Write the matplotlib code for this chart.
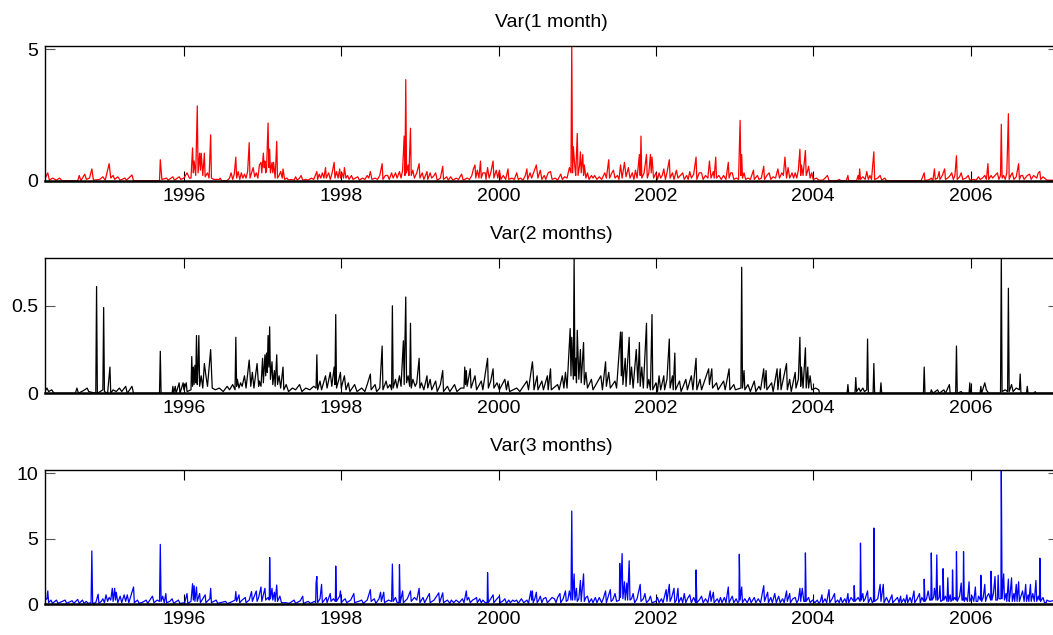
import matplotlib.pyplot as plt
import numpy as np

plt.rcParams['font.family'] = ['Liberation Sans', 'DejaVu Sans']

titles = ['Var(1 month)', 'Var(2 months)', 'Var(3 months)']
colors = ['red', 'black', 'blue']
x_ticks = [1996, 1998, 2000, 2002, 2004, 2006]
x_ticklabels = ['1996', '1998', '2000', '2002', '2004', '2006']
y_ticks = [[0, 5], [0, 0.5], [0, 5, 10]]
y_ticklabels = [['0', '5'], ['0', '0.5'], ['0', '5', '10']]
y_limits = [5.13, 0.771, 10.23]

# (year, value) points
var1 = [
    (1994.23, 0.05), (1994.27, 0.3), (1994.29, 0.02), (1994.33, 0.1), (1994.38, 0.02), (1994.42, 0.1),
    (1994.45, 0.0), (1994.65, 0.0), (1994.67, 0.2), (1994.69, 0.0), (1994.74, 0.25), (1994.76, 0.05),
    (1994.80, 0.1), (1994.83, 0.45), (1994.85, 0.02), (1994.93, 0.05), (1994.97, 0.15), (1995.00, 0.02),
    (1995.05, 0.65), (1995.07, 0.1), (1995.10, 0.2), (1995.12, 0.05), (1995.16, 0.15), (1995.19, 0.02),
    (1995.25, 0.1), (1995.27, 0.02), (1995.34, 0.22), (1995.36, 0.0), (1995.69, 0.0), (1995.70, 0.8),
    (1995.72, 0.05), (1995.78, 0.1), (1995.80, 0.02), (1995.86, 0.15), (1995.88, 0.02), (1995.94, 0.15),
    (1995.96, 0.05), (1996.00, 0.1), (1996.04, 0.3), (1996.07, 0.1), (1996.09, 0.1), (1996.11, 1.25),
    (1996.12, 0.3), (1996.13, 0.75), (1996.15, 0.2), (1996.17, 2.85), (1996.18, 0.3), (1996.20, 1.05),
    (1996.21, 0.4), (1996.22, 1.05), (1996.24, 0.2), (1996.26, 1.05), (1996.27, 0.15), (1996.30, 0.3),
    (1996.32, 0.1), (1996.34, 1.75), (1996.35, 0.1), (1996.38, 0.05), (1996.45, 0.05), (1996.46, 0.1),
    (1996.48, 0.0), (1996.55, 0.0), (1996.58, 0.1), (1996.60, 0.3), (1996.62, 0.05), (1996.64, 0.25),
    (1996.66, 0.9), (1996.67, 0.1), (1996.69, 0.35), (1996.71, 0.05), (1996.73, 0.3), (1996.75, 0.1),
    (1996.77, 0.25), (1996.79, 0.1), (1996.81, 0.35), (1996.83, 1.45), (1996.84, 0.1), (1996.86, 0.3),
    (1996.88, 0.5), (1996.90, 0.15), (1996.92, 0.3), (1996.94, 0.1), (1996.96, 0.6), (1996.98, 0.7),
    (1996.99, 0.3), (1997.01, 1.05), (1997.02, 0.5), (1997.03, 0.75), (1997.04, 0.3), (1997.05, 0.4),
    (1997.07, 2.2), (1997.08, 0.5), (1997.09, 1.2), (1997.10, 0.3), (1997.12, 0.7), (1997.13, 0.3),
    (1997.14, 0.7), (1997.16, 0.1), (1997.18, 1.5), (1997.19, 0.1), (1997.21, 0.2), (1997.23, 0.35),
    (1997.25, 0.1), (1997.26, 0.45), (1997.28, 0.05), (1997.31, 0.1), (1997.33, 0.02), (1997.36, 0.05),
    (1997.40, 0.02), (1997.42, 0.15), (1997.44, 0.02), (1997.47, 0.1), (1997.49, 0.2), (1997.51, 0.02),
    (1997.55, 0.05), (1997.58, 0.02), (1997.62, 0.1), (1997.65, 0.05), (1997.67, 0.2), (1997.69, 0.35),
    (1997.70, 0.05), (1997.72, 0.25), (1997.74, 0.1), (1997.76, 0.3), (1997.78, 0.1), (1997.80, 0.5),
    (1997.81, 0.1), (1997.84, 0.3), (1997.86, 0.05), (1997.88, 0.25), (1997.91, 0.7), (1997.92, 0.1),
    (1997.94, 0.35), (1997.96, 0.1), (1997.98, 0.45), (1997.99, 0.1), (1998.01, 0.3), (1998.03, 0.1),
    (1998.04, 0.5), (1998.06, 0.1), (1998.08, 0.2), (1998.10, 0.05), (1998.13, 0.2), (1998.15, 0.05),
    (1998.18, 0.1), (1998.21, 0.15), (1998.23, 0.02), (1998.27, 0.1), (1998.30, 0.05), (1998.33, 0.2),
    (1998.35, 0.1), (1998.37, 0.35), (1998.39, 0.05), (1998.43, 0.1), (1998.46, 0.05), (1998.49, 0.2),
    (1998.52, 0.65), (1998.53, 0.05), (1998.56, 0.2), (1998.59, 0.2), (1998.61, 0.05), (1998.64, 0.3),
    (1998.66, 0.1), (1998.69, 0.3), (1998.71, 0.1), (1998.74, 0.35), (1998.76, 0.1), (1998.78, 0.4),
    (1998.80, 1.7), (1998.81, 0.2), (1998.82, 3.85), (1998.83, 0.3), (1998.85, 0.6), (1998.86, 0.2),
    (1998.88, 2.0), (1998.89, 0.2), (1998.91, 0.4), (1998.93, 0.1), (1998.96, 0.3), (1998.99, 0.65),
    (1999.00, 0.1), (1999.03, 0.3), (1999.05, 0.05), (1999.09, 0.35), (1999.10, 0.05), (1999.13, 0.3),
    (1999.15, 0.1), (1999.18, 0.2), (1999.20, 0.3), (1999.22, 0.02), (1999.26, 0.1), (1999.29, 0.55),
    (1999.30, 0.05), (1999.34, 0.15), (1999.36, 0.02), (1999.39, 0.15), (1999.42, 0.02), (1999.46, 0.1),
    (1999.49, 0.05), (1999.53, 0.25), (1999.55, 0.02), (1999.60, 0.1), (1999.63, 0.05), (1999.66, 0.2),
    (1999.68, 0.45), (1999.70, 0.6), (1999.71, 0.1), (1999.73, 0.4), (1999.75, 0.1), (1999.77, 0.75),
    (1999.78, 0.1), (1999.80, 0.3), (1999.83, 0.3), (1999.84, 0.05), (1999.86, 0.5), (1999.88, 0.1),
    (1999.90, 0.3), (1999.93, 0.75), (1999.94, 0.1), (1999.97, 0.4), (1999.99, 0.1), (2000.01, 0.4),
    (2000.03, 0.05), (2000.06, 0.2), (2000.09, 0.05), (2000.12, 0.45), (2000.13, 0.05), (2000.17, 0.1),
    (2000.20, 0.05), (2000.23, 0.3), (2000.25, 0.05), (2000.28, 0.1), (2000.31, 0.02), (2000.34, 0.2),
    (2000.36, 0.45), (2000.37, 0.05), (2000.40, 0.3), (2000.42, 0.1), (2000.45, 0.35), (2000.48, 0.6),
    (2000.50, 0.1), (2000.53, 0.4), (2000.55, 0.05), (2000.58, 0.2), (2000.60, 0.05), (2000.63, 0.3),
    (2000.66, 0.35), (2000.68, 0.05), (2000.72, 0.1), (2000.75, 0.02), (2000.79, 0.25), (2000.81, 0.05),
    (2000.84, 0.15), (2000.87, 0.1), (2000.90, 0.5), (2000.92, 0.3), (2000.93, 5.2), (2000.94, 0.3),
    (2000.95, 1.3), (2000.97, 0.5), (2000.98, 0.2), (2001.00, 1.8), (2001.01, 0.2), (2001.03, 0.6),
    (2001.04, 1.1), (2001.05, 0.3), (2001.07, 1.0), (2001.08, 0.2), (2001.09, 0.6), (2001.11, 0.1),
    (2001.13, 0.3), (2001.15, 0.05), (2001.18, 0.2), (2001.20, 0.1), (2001.22, 0.2), (2001.25, 0.05),
    (2001.28, 0.15), (2001.31, 0.05), (2001.35, 0.3), (2001.37, 0.1), (2001.40, 0.8), (2001.41, 0.1),
    (2001.44, 0.3), (2001.46, 0.4), (2001.48, 0.1), (2001.51, 0.2), (2001.53, 0.05), (2001.55, 0.6),
    (2001.57, 0.1), (2001.60, 0.7), (2001.62, 0.15), (2001.65, 0.5), (2001.67, 0.1), (2001.70, 0.3),
    (2001.72, 0.05), (2001.74, 0.4), (2001.76, 0.1), (2001.79, 1.0), (2001.80, 0.2), (2001.81, 1.7),
    (2001.82, 0.1), (2001.85, 0.3), (2001.88, 1.0), (2001.89, 0.1), (2001.91, 0.3), (2001.93, 1.0),
    (2001.94, 0.3), (2001.95, 0.9), (2001.97, 0.1), (2002.00, 0.3), (2002.02, 0.05), (2002.04, 0.3),
    (2002.06, 0.1), (2002.08, 0.2), (2002.10, 0.45), (2002.12, 0.05), (2002.14, 0.3), (2002.17, 0.8),
    (2002.18, 0.1), (2002.21, 0.3), (2002.23, 0.05), (2002.26, 0.4), (2002.28, 0.1), (2002.31, 0.2),
    (2002.34, 0.3), (2002.36, 0.05), (2002.39, 0.2), (2002.41, 0.05), (2002.43, 0.35), (2002.45, 0.1),
    (2002.48, 0.25), (2002.51, 0.9), (2002.52, 0.05), (2002.55, 0.3), (2002.58, 0.3), (2002.60, 0.05),
    (2002.63, 0.2), (2002.66, 0.1), (2002.68, 0.75), (2002.70, 0.1), (2002.73, 0.35), (2002.74, 0.1),
    (2002.76, 0.9), (2002.77, 0.1), (2002.80, 0.2), (2002.83, 0.05), (2002.86, 0.2), (2002.89, 0.05),
    (2002.92, 0.7), (2002.93, 0.1), (2002.95, 0.3), (2002.97, 0.3), (2002.99, 0.05), (2003.02, 0.1),
    (2003.05, 0.05), (2003.07, 2.3), (2003.08, 0.2), (2003.09, 1.0), (2003.10, 0.1), (2003.12, 0.3),
    (2003.14, 0.05), (2003.17, 0.1), (2003.20, 0.05), (2003.24, 0.4), (2003.25, 0.05), (2003.29, 0.2),
    (2003.31, 0.05), (2003.34, 0.1), (2003.37, 0.55), (2003.38, 0.05), (2003.41, 0.2), (2003.44, 0.3),
    (2003.46, 0.05), (2003.49, 0.15), (2003.52, 0.1), (2003.55, 0.45), (2003.57, 0.1), (2003.60, 0.3),
    (2003.62, 0.2), (2003.64, 0.9), (2003.66, 0.1), (2003.68, 0.5), (2003.70, 0.1), (2003.73, 0.3),
    (2003.75, 0.1), (2003.77, 0.3), (2003.79, 0.1), (2003.81, 0.4), (2003.83, 1.2), (2003.84, 0.2),
    (2003.85, 0.6), (2003.87, 0.2), (2003.90, 1.15), (2003.91, 0.2), (2003.93, 0.4), (2003.94, 0.55),
    (2003.96, 0.1), (2003.98, 0.3), (2004.00, 0.05), (2004.04, 0.1), (2004.07, 0.02), (2004.12, 0.02),
    (2004.15, 0.1), (2004.18, 0.2), (2004.20, 0.0), (2004.30, 0.0), (2004.33, 0.05), (2004.35, 0.0),
    (2004.42, 0.0), (2004.44, 0.2), (2004.45, 0.0), (2004.55, 0.0), (2004.57, 0.2), (2004.58, 0.05),
    (2004.59, 0.45), (2004.60, 0.05), (2004.63, 0.15), (2004.66, 0.05), (2004.68, 0.35), (2004.70, 0.05),
    (2004.72, 0.2), (2004.74, 0.05), (2004.77, 1.1), (2004.78, 0.05), (2004.82, 0.1), (2004.85, 0.2),
    (2004.87, 0.02), (2004.91, 0.1), (2004.93, 0.0), (2005.37, 0.0), (2005.41, 0.3), (2005.42, 0.0),
    (2005.48, 0.05), (2005.50, 0.1), (2005.52, 0.0), (2005.54, 0.45), (2005.55, 0.05), (2005.58, 0.1),
    (2005.60, 0.35), (2005.61, 0.05), (2005.64, 0.2), (2005.67, 0.45), (2005.68, 0.05), (2005.71, 0.1),
    (2005.74, 0.2), (2005.76, 0.3), (2005.78, 0.05), (2005.80, 0.2), (2005.82, 0.95), (2005.83, 0.05),
    (2005.86, 0.15), (2005.88, 0.3), (2005.90, 0.05), (2005.94, 0.1), (2005.97, 0.2), (2005.99, 0.02),
    (2006.04, 0.05), (2006.07, 0.02), (2006.10, 0.15), (2006.12, 0.05), (2006.15, 0.1), (2006.18, 0.2),
    (2006.20, 0.05), (2006.22, 0.65), (2006.23, 0.05), (2006.26, 0.2), (2006.28, 0.1), (2006.31, 0.2),
    (2006.34, 0.3), (2006.36, 0.05), (2006.38, 0.2), (2006.39, 2.15), (2006.40, 0.1), (2006.42, 0.2),
    (2006.44, 0.05), (2006.46, 0.3), (2006.48, 2.55), (2006.49, 0.05), (2006.51, 0.2), (2006.53, 0.3),
    (2006.55, 0.05), (2006.58, 0.15), (2006.61, 0.65), (2006.62, 0.05), (2006.64, 0.2), (2006.66, 0.2),
    (2006.68, 0.05), (2006.72, 0.2), (2006.75, 0.25), (2006.77, 0.05), (2006.80, 0.2), (2006.84, 0.1),
    (2006.86, 0.3), (2006.88, 0.35), (2006.89, 0.05), (2006.92, 0.15), (2006.94, 0.1), (2006.97, 0.02),
    (2007.10, 0.02),
]

var2 = [
    (1994.23, 0.01), (1994.26, 0.03), (1994.28, 0.01), (1994.32, 0.02), (1994.35, 0.0), (1994.62, 0.0),
    (1994.64, 0.03), (1994.66, 0.0), (1994.74, 0.02), (1994.77, 0.03), (1994.79, 0.01), (1994.88, 0.0),
    (1994.89, 0.61), (1994.90, 0.0), (1994.97, 0.02), (1994.98, 0.49), (1994.99, 0.01), (1995.03, 0.0),
    (1995.06, 0.15), (1995.07, 0.0), (1995.10, 0.02), (1995.14, 0.01), (1995.18, 0.03), (1995.21, 0.01),
    (1995.26, 0.04), (1995.28, 0.0), (1995.34, 0.04), (1995.36, 0.0), (1995.69, 0.0), (1995.70, 0.24),
    (1995.71, 0.0), (1995.85, 0.0), (1995.86, 0.04), (1995.87, 0.0), (1995.89, 0.04), (1995.90, 0.0),
    (1995.94, 0.06), (1995.95, 0.0), (1995.99, 0.06), (1996.00, 0.02), (1996.03, 0.06), (1996.04, 0.01),
    (1996.09, 0.02), (1996.10, 0.21), (1996.11, 0.04), (1996.12, 0.15), (1996.13, 0.05), (1996.14, 0.16),
    (1996.15, 0.06), (1996.16, 0.33), (1996.17, 0.05), (1996.18, 0.15), (1996.19, 0.33), (1996.20, 0.04),
    (1996.22, 0.1), (1996.24, 0.03), (1996.26, 0.17), (1996.28, 0.1), (1996.30, 0.04), (1996.34, 0.25),
    (1996.36, 0.03), (1996.40, 0.02), (1996.45, 0.03), (1996.50, 0.01), (1996.55, 0.04), (1996.58, 0.02),
    (1996.62, 0.05), (1996.65, 0.02), (1996.66, 0.32), (1996.67, 0.04), (1996.68, 0.08), (1996.70, 0.03),
    (1996.72, 0.06), (1996.74, 0.04), (1996.77, 0.1), (1996.79, 0.03), (1996.83, 0.19), (1996.85, 0.04),
    (1996.87, 0.12), (1996.89, 0.03), (1996.93, 0.17), (1996.95, 0.04), (1996.96, 0.07), (1996.98, 0.04),
    (1997.00, 0.2), (1997.01, 0.06), (1997.03, 0.22), (1997.04, 0.1), (1997.05, 0.23), (1997.06, 0.12),
    (1997.07, 0.33), (1997.08, 0.15), (1997.09, 0.38), (1997.10, 0.08), (1997.12, 0.18), (1997.13, 0.05),
    (1997.15, 0.13), (1997.16, 0.04), (1997.18, 0.22), (1997.19, 0.05), (1997.21, 0.1), (1997.23, 0.03),
    (1997.26, 0.15), (1997.27, 0.02), (1997.30, 0.05), (1997.33, 0.01), (1997.38, 0.03), (1997.42, 0.02),
    (1997.47, 0.05), (1997.50, 0.01), (1997.55, 0.03), (1997.60, 0.02), (1997.65, 0.04), (1997.68, 0.03),
    (1997.69, 0.22), (1997.70, 0.02), (1997.73, 0.07), (1997.75, 0.02), (1997.80, 0.1), (1997.82, 0.03),
    (1997.86, 0.12), (1997.88, 0.04), (1997.91, 0.15), (1997.92, 0.05), (1997.93, 0.45), (1997.94, 0.03),
    (1997.97, 0.08), (1997.99, 0.12), (1998.00, 0.03), (1998.04, 0.1), (1998.06, 0.02), (1998.09, 0.06),
    (1998.11, 0.01), (1998.17, 0.05), (1998.20, 0.01), (1998.26, 0.03), (1998.30, 0.01), (1998.33, 0.05),
    (1998.37, 0.11), (1998.38, 0.02), (1998.43, 0.05), (1998.45, 0.01), (1998.49, 0.03), (1998.52, 0.27),
    (1998.53, 0.02), (1998.57, 0.07), (1998.59, 0.03), (1998.62, 0.05), (1998.64, 0.02), (1998.65, 0.5),
    (1998.66, 0.03), (1998.69, 0.08), (1998.71, 0.03), (1998.74, 0.1), (1998.76, 0.04), (1998.79, 0.3),
    (1998.80, 0.05), (1998.82, 0.55), (1998.83, 0.06), (1998.85, 0.1), (1998.87, 0.04), (1998.88, 0.4),
    (1998.89, 0.03), (1998.91, 0.08), (1998.94, 0.04), (1998.96, 0.06), (1998.99, 0.2), (1999.00, 0.03),
    (1999.02, 0.06), (1999.05, 0.02), (1999.09, 0.1), (1999.10, 0.03), (1999.13, 0.08), (1999.15, 0.02),
    (1999.20, 0.07), (1999.22, 0.01), (1999.26, 0.05), (1999.29, 0.13), (1999.30, 0.01), (1999.35, 0.04),
    (1999.38, 0.01), (1999.44, 0.05), (1999.47, 0.01), (1999.52, 0.03), (1999.56, 0.03), (1999.57, 0.15),
    (1999.58, 0.05), (1999.59, 0.13), (1999.60, 0.04), (1999.64, 0.14), (1999.65, 0.03), (1999.70, 0.1),
    (1999.72, 0.02), (1999.78, 0.07), (1999.80, 0.02), (1999.86, 0.2), (1999.87, 0.03), (1999.90, 0.07),
    (1999.93, 0.14), (1999.94, 0.03), (1999.98, 0.06), (2000.01, 0.02), (2000.08, 0.08), (2000.10, 0.02),
    (2000.12, 0.07), (2000.14, 0.01), (2000.23, 0.03), (2000.27, 0.01), (2000.36, 0.07), (2000.38, 0.02),
    (2000.43, 0.18), (2000.44, 0.12), (2000.45, 0.02), (2000.49, 0.1), (2000.50, 0.02), (2000.55, 0.07),
    (2000.57, 0.02), (2000.62, 0.1), (2000.63, 0.02), (2000.66, 0.14), (2000.67, 0.02), (2000.75, 0.05),
    (2000.77, 0.02), (2000.81, 0.1), (2000.83, 0.03), (2000.85, 0.12), (2000.87, 0.03), (2000.91, 0.37),
    (2000.92, 0.1), (2000.93, 0.32), (2000.95, 0.08), (2000.96, 0.78), (2000.97, 0.1), (2000.98, 0.2),
    (2000.99, 0.06), (2001.00, 0.36), (2001.02, 0.08), (2001.04, 0.25), (2001.05, 0.06), (2001.08, 0.29),
    (2001.09, 0.05), (2001.11, 0.12), (2001.13, 0.03), (2001.18, 0.08), (2001.20, 0.02), (2001.30, 0.1),
    (2001.32, 0.02), (2001.36, 0.18), (2001.37, 0.04), (2001.40, 0.12), (2001.42, 0.03), (2001.48, 0.07),
    (2001.50, 0.03), (2001.55, 0.35), (2001.56, 0.1), (2001.57, 0.35), (2001.58, 0.05), (2001.61, 0.2),
    (2001.62, 0.04), (2001.66, 0.32), (2001.67, 0.05), (2001.69, 0.15), (2001.71, 0.03), (2001.75, 0.25),
    (2001.77, 0.06), (2001.79, 0.29), (2001.80, 0.04), (2001.82, 0.15), (2001.84, 0.03), (2001.88, 0.4),
    (2001.89, 0.03), (2001.91, 0.08), (2001.93, 0.02), (2001.95, 0.45), (2001.96, 0.02), (2002.00, 0.06),
    (2002.02, 0.01), (2002.04, 0.1), (2002.06, 0.02), (2002.10, 0.1), (2002.11, 0.02), (2002.14, 0.08),
    (2002.17, 0.31), (2002.18, 0.03), (2002.21, 0.1), (2002.22, 0.02), (2002.24, 0.23), (2002.25, 0.02),
    (2002.30, 0.07), (2002.32, 0.01), (2002.38, 0.08), (2002.40, 0.02), (2002.45, 0.1), (2002.47, 0.02),
    (2002.51, 0.2), (2002.52, 0.02), (2002.56, 0.08), (2002.58, 0.02), (2002.67, 0.14), (2002.68, 0.05),
    (2002.71, 0.14), (2002.72, 0.03), (2002.77, 0.06), (2002.79, 0.02), (2002.86, 0.07), (2002.88, 0.02),
    (2002.93, 0.14), (2002.94, 0.02), (2002.99, 0.05), (2003.01, 0.02), (2003.08, 0.03), (2003.09, 0.72),
    (2003.10, 0.03), (2003.12, 0.13), (2003.13, 0.02), (2003.17, 0.05), (2003.20, 0.01), (2003.25, 0.07),
    (2003.27, 0.01), (2003.31, 0.04), (2003.33, 0.02), (2003.37, 0.14), (2003.38, 0.03), (2003.40, 0.13),
    (2003.41, 0.02), (2003.47, 0.06), (2003.49, 0.01), (2003.54, 0.14), (2003.55, 0.02), (2003.58, 0.14),
    (2003.59, 0.02), (2003.66, 0.17), (2003.67, 0.02), (2003.70, 0.08), (2003.72, 0.01), (2003.77, 0.12),
    (2003.78, 0.03), (2003.81, 0.08), (2003.83, 0.32), (2003.84, 0.04), (2003.85, 0.15), (2003.87, 0.03),
    (2003.90, 0.26), (2003.91, 0.03), (2003.93, 0.15), (2003.94, 0.03), (2003.96, 0.1), (2003.98, 0.02),
    (2004.03, 0.03), (2004.07, 0.02), (2004.08, 0.0), (2004.43, 0.0), (2004.44, 0.05), (2004.45, 0.0),
    (2004.53, 0.0), (2004.54, 0.09), (2004.55, 0.01), (2004.58, 0.03), (2004.60, 0.01), (2004.63, 0.03),
    (2004.65, 0.01), (2004.68, 0.02), (2004.69, 0.31), (2004.70, 0.0), (2004.76, 0.0), (2004.77, 0.17),
    (2004.78, 0.0), (2004.85, 0.0), (2004.86, 0.06), (2004.87, 0.0), (2005.40, 0.0), (2005.41, 0.15),
    (2005.42, 0.0), (2005.49, 0.0), (2005.50, 0.02), (2005.52, 0.0), (2005.58, 0.02), (2005.60, 0.0),
    (2005.66, 0.02), (2005.68, 0.0), (2005.73, 0.05), (2005.74, 0.0), (2005.81, 0.0), (2005.82, 0.27),
    (2005.83, 0.0), (2005.88, 0.01), (2005.90, 0.0), (2005.98, 0.0), (2005.99, 0.06), (2006.00, 0.0),
    (2006.12, 0.0), (2006.13, 0.04), (2006.14, 0.0), (2006.18, 0.06), (2006.20, 0.02), (2006.23, 0.0),
    (2006.38, 0.0), (2006.39, 0.78), (2006.40, 0.01), (2006.44, 0.02), (2006.47, 0.01), (2006.48, 0.6),
    (2006.49, 0.01), (2006.52, 0.05), (2006.54, 0.01), (2006.58, 0.03), (2006.62, 0.02), (2006.63, 0.11),
    (2006.64, 0.0), (2006.71, 0.0), (2006.72, 0.04), (2006.73, 0.0), (2006.81, 0.0), (2006.82, 0.01),
    (2006.83, 0.0), (2007.10, 0.0),
]

var3 = [
    (1994.23, 0.3), (1994.26, 0.4), (1994.27, 1.0), (1994.28, 0.1), (1994.31, 0.3), (1994.33, 0.05),
    (1994.38, 0.3), (1994.40, 0.05), (1994.49, 0.3), (1994.51, 0.05), (1994.58, 0.25), (1994.60, 0.05),
    (1994.65, 0.35), (1994.67, 0.05), (1994.71, 0.3), (1994.73, 0.05), (1994.76, 0.2), (1994.78, 0.05),
    (1994.82, 0.1), (1994.83, 4.05), (1994.84, 0.05), (1994.88, 0.1), (1994.91, 0.75), (1994.92, 0.05),
    (1994.95, 0.2), (1994.97, 0.4), (1994.99, 0.1), (1995.01, 0.7), (1995.03, 0.2), (1995.05, 0.5),
    (1995.07, 0.3), (1995.09, 1.2), (1995.10, 0.2), (1995.12, 1.2), (1995.13, 0.3), (1995.14, 0.9),
    (1995.16, 0.1), (1995.19, 0.6), (1995.21, 0.1), (1995.24, 0.7), (1995.26, 0.2), (1995.28, 0.7),
    (1995.30, 0.1), (1995.36, 1.3), (1995.37, 0.1), (1995.41, 0.3), (1995.43, 0.05), (1995.48, 0.15),
    (1995.52, 0.3), (1995.54, 0.05), (1995.60, 0.6), (1995.62, 0.1), (1995.66, 0.3), (1995.69, 0.2),
    (1995.70, 4.55), (1995.71, 0.2), (1995.73, 0.6), (1995.75, 0.1), (1995.77, 0.8), (1995.78, 0.1),
    (1995.82, 0.2), (1995.85, 0.4), (1995.87, 0.05), (1995.93, 0.3), (1995.95, 0.05), (1996.01, 0.1),
    (1996.04, 0.8), (1996.05, 0.05), (1996.09, 0.2), (1996.11, 1.55), (1996.12, 0.3), (1996.13, 1.4),
    (1996.14, 0.2), (1996.16, 1.3), (1996.17, 0.2), (1996.20, 0.8), (1996.21, 0.1), (1996.27, 0.7),
    (1996.28, 0.1), (1996.33, 0.4), (1996.34, 1.2), (1996.35, 0.1), (1996.41, 0.3), (1996.43, 0.05),
    (1996.53, 0.2), (1996.55, 0.02), (1996.62, 0.2), (1996.65, 0.3), (1996.66, 0.95), (1996.67, 0.2),
    (1996.70, 0.7), (1996.71, 0.1), (1996.74, 0.3), (1996.78, 0.5), (1996.79, 0.1), (1996.83, 0.3),
    (1996.86, 0.95), (1996.87, 0.2), (1996.92, 1.0), (1996.93, 0.2), (1996.95, 0.5), (1996.98, 1.3),
    (1996.99, 0.2), (1997.03, 1.2), (1997.04, 0.3), (1997.07, 0.5), (1997.09, 3.55), (1997.10, 0.4),
    (1997.12, 1.2), (1997.13, 0.3), (1997.15, 0.9), (1997.16, 0.2), (1997.18, 1.45), (1997.19, 0.2),
    (1997.22, 0.6), (1997.24, 0.1), (1997.29, 0.1), (1997.34, 0.05), (1997.40, 0.3), (1997.42, 0.05),
    (1997.48, 0.25), (1997.51, 0.6), (1997.52, 0.05), (1997.58, 0.2), (1997.61, 0.05), (1997.66, 0.2),
    (1997.68, 1.6), (1997.69, 2.1), (1997.70, 0.1), (1997.73, 0.4), (1997.75, 1.5), (1997.76, 0.1),
    (1997.81, 0.5), (1997.82, 0.1), (1997.86, 0.8), (1997.87, 0.2), (1997.90, 0.4), (1997.93, 2.9),
    (1997.94, 0.2), (1997.98, 0.6), (1997.99, 1.0), (1998.00, 0.1), (1998.03, 0.3), (1998.05, 0.4),
    (1998.07, 0.1), (1998.12, 0.3), (1998.16, 0.8), (1998.17, 0.1), (1998.22, 0.2), (1998.26, 0.3),
    (1998.28, 0.05), (1998.33, 0.3), (1998.37, 1.1), (1998.38, 0.2), (1998.42, 0.4), (1998.44, 0.05),
    (1998.48, 0.4), (1998.50, 0.9), (1998.51, 0.2), (1998.54, 0.9), (1998.55, 0.1), (1998.60, 0.3),
    (1998.64, 0.2), (1998.65, 3.05), (1998.66, 0.2), (1998.69, 0.5), (1998.71, 0.1), (1998.74, 3.0),
    (1998.75, 0.1), (1998.78, 1.0), (1998.79, 0.1), (1998.84, 0.4), (1998.88, 1.0), (1998.89, 0.2),
    (1998.93, 0.5), (1998.96, 0.3), (1998.99, 1.2), (1999.00, 0.1), (1999.04, 0.5), (1999.06, 0.1),
    (1999.12, 0.8), (1999.13, 0.1), (1999.18, 0.3), (1999.24, 0.85), (1999.25, 0.1), (1999.29, 0.85),
    (1999.30, 0.1), (1999.35, 0.3), (1999.38, 0.05), (1999.46, 0.3), (1999.50, 0.1), (1999.59, 1.0),
    (1999.60, 0.3), (1999.62, 0.5), (1999.64, 0.1), (1999.70, 0.4), (1999.72, 0.5), (1999.73, 0.1),
    (1999.80, 0.3), (1999.83, 0.1), (1999.86, 2.4), (1999.87, 0.1), (1999.93, 0.7), (1999.94, 0.1),
    (1999.98, 0.4), (2000.01, 0.6), (2000.02, 0.1), (2000.08, 0.4), (2000.10, 0.05), (2000.18, 0.3),
    (2000.23, 0.3), (2000.25, 0.05), (2000.36, 0.3), (2000.38, 0.05), (2000.41, 1.0), (2000.42, 0.3),
    (2000.43, 1.0), (2000.44, 0.1), (2000.48, 0.9), (2000.49, 0.1), (2000.53, 0.6), (2000.55, 0.1),
    (2000.60, 0.5), (2000.62, 0.1), (2000.71, 0.4), (2000.73, 0.1), (2000.75, 0.5), (2000.78, 0.8),
    (2000.79, 0.1), (2000.85, 1.0), (2000.86, 0.2), (2000.90, 1.0), (2000.92, 0.3), (2000.93, 7.1),
    (2000.94, 0.3), (2000.96, 2.3), (2000.97, 0.3), (2000.99, 1.2), (2001.00, 0.2), (2001.04, 1.8),
    (2001.05, 0.2), (2001.08, 2.3), (2001.09, 0.2), (2001.13, 0.6), (2001.15, 0.1), (2001.23, 0.5),
    (2001.25, 0.1), (2001.36, 1.0), (2001.37, 0.1), (2001.42, 1.1), (2001.43, 0.2), (2001.48, 0.8),
    (2001.50, 0.2), (2001.54, 3.1), (2001.55, 0.5), (2001.57, 3.85), (2001.58, 0.4), (2001.60, 1.7),
    (2001.61, 0.3), (2001.63, 1.6), (2001.64, 0.3), (2001.66, 3.3), (2001.67, 0.3), (2001.71, 0.8),
    (2001.73, 0.1), (2001.80, 1.5), (2001.81, 0.2), (2001.86, 0.8), (2001.88, 0.1), (2001.93, 0.6),
    (2001.95, 0.1), (2002.02, 0.5), (2002.04, 0.1), (2002.13, 1.1), (2002.14, 0.2), (2002.17, 1.5),
    (2002.18, 0.2), (2002.23, 1.2), (2002.24, 0.1), (2002.28, 1.2), (2002.29, 0.1), (2002.36, 0.8),
    (2002.38, 0.1), (2002.43, 0.7), (2002.45, 0.1), (2002.51, 2.6), (2002.52, 0.1), (2002.58, 0.6),
    (2002.60, 0.1), (2002.69, 1.0), (2002.70, 0.2), (2002.73, 0.9), (2002.74, 0.1), (2002.82, 0.5),
    (2002.84, 0.1), (2002.92, 1.3), (2002.93, 0.1), (2002.97, 0.6), (2002.99, 0.1), (2003.06, 3.8),
    (2003.07, 0.3), (2003.09, 1.3), (2003.10, 0.1), (2003.19, 0.5), (2003.21, 0.1), (2003.25, 0.5),
    (2003.27, 0.1), (2003.37, 1.4), (2003.38, 0.2), (2003.42, 0.9), (2003.43, 0.1), (2003.51, 0.8),
    (2003.53, 0.1), (2003.66, 1.0), (2003.67, 0.2), (2003.70, 0.8), (2003.71, 0.1), (2003.77, 0.5),
    (2003.79, 0.1), (2003.83, 1.2), (2003.84, 0.2), (2003.86, 1.2), (2003.88, 0.2), (2003.90, 3.9),
    (2003.91, 0.2), (2003.94, 0.5), (2003.96, 0.1), (2004.05, 0.3), (2004.07, 0.05), (2004.11, 0.7),
    (2004.12, 0.1), (2004.20, 1.1), (2004.21, 0.1), (2004.27, 0.8), (2004.28, 0.1), (2004.35, 0.5),
    (2004.37, 0.1), (2004.44, 0.8), (2004.45, 0.1), (2004.52, 1.4), (2004.53, 0.2), (2004.60, 4.65),
    (2004.61, 0.3), (2004.63, 0.8), (2004.64, 0.2), (2004.69, 1.0), (2004.70, 0.1), (2004.77, 5.8),
    (2004.78, 0.2), (2004.85, 1.5), (2004.86, 0.2), (2004.89, 1.5), (2004.90, 0.1), (2005.00, 0.7),
    (2005.01, 0.1), (2005.11, 0.6), (2005.12, 0.1), (2005.19, 0.7), (2005.20, 0.1), (2005.28, 1.0),
    (2005.29, 0.1), (2005.35, 0.8), (2005.36, 0.1), (2005.41, 1.9), (2005.42, 0.2), (2005.46, 1.0),
    (2005.48, 0.3), (2005.50, 3.9), (2005.51, 0.3), (2005.54, 1.2), (2005.56, 0.3), (2005.57, 3.75),
    (2005.58, 0.3), (2005.61, 1.4), (2005.62, 0.2), (2005.65, 2.7), (2005.66, 0.3), (2005.71, 2.0),
    (2005.72, 0.2), (2005.77, 2.6), (2005.78, 0.3), (2005.82, 4.0), (2005.83, 0.2), (2005.88, 1.6),
    (2005.89, 0.3), (2005.91, 4.0), (2005.92, 0.2), (2005.98, 1.7), (2005.99, 0.2), (2006.06, 1.3),
    (2006.07, 0.2), (2006.10, 0.6), (2006.13, 2.2), (2006.14, 0.2), (2006.18, 1.5), (2006.19, 0.2),
    (2006.23, 0.8), (2006.26, 2.5), (2006.27, 0.3), (2006.31, 2.1), (2006.32, 0.3), (2006.35, 2.2),
    (2006.36, 0.4), (2006.39, 10.3), (2006.40, 0.4), (2006.42, 2.3), (2006.43, 0.3), (2006.48, 1.9),
    (2006.49, 0.2), (2006.52, 2.0), (2006.53, 0.2), (2006.58, 1.5), (2006.59, 0.2), (2006.61, 1.7),
    (2006.62, 0.2), (2006.70, 1.5), (2006.71, 0.2), (2006.76, 1.5), (2006.77, 0.2), (2006.83, 1.8),
    (2006.84, 0.2), (2006.88, 3.5), (2006.89, 0.2), (2006.92, 0.5), (2006.94, 0.1), (2006.97, 0.3),
    (2007.10, 0.3),
]

# low "floor" readings of the blue series between its spikes
var3_floor = [
    (1997.085, 0.3), (1997.675, 0.1), (1997.925, 0.2), (1998.735, 0.1), (1999.855, 0.1),
    (2001.535, 0.3), (2002.505, 0.1), (2003.055, 0.2), (2003.895, 0.2), (2004.515, 0.2),
    (2004.595, 0.2), (2004.765, 0.2), (2005.405, 0.2), (2005.495, 0.3), (2005.645, 0.3),
    (2005.765, 0.3), (2005.815, 0.3), (2005.905, 0.3), (2006.125, 0.3), (2006.255, 0.3),
    (2006.385, 0.4), (2006.875, 0.3),
    (1999.40, 0.3), (1999.43, 0.1), (1999.54, 0.4), (1999.56, 0.1), (1999.67, 0.3), (1999.76, 0.4),
    (1999.78, 0.1), (1999.90, 0.4), (2000.05, 0.2), (2000.13, 0.3), (2000.15, 0.1), (2000.20, 0.2),
    (2000.29, 0.4), (2000.32, 0.1), (2000.46, 0.4), (2000.51, 0.3), (2000.57, 0.4), (2000.65, 0.3),
    (2000.68, 0.5), (2000.82, 0.4), (2000.88, 0.3), (2001.02, 0.4), (2001.11, 0.5), (2001.18, 0.4),
    (2001.20, 0.1), (2001.28, 0.5), (2001.31, 0.1), (2001.33, 0.4), (2001.39, 0.5), (2001.45, 0.3),
    (2001.69, 0.4), (2001.76, 0.4), (2001.84, 0.4), (2001.91, 0.3),
    (2002.00, 0.2), (2002.07, 0.4), (2002.09, 0.1), (2002.20, 0.5), (2002.26, 0.3), (2002.32, 0.5),
    (2002.34, 0.1), (2002.40, 0.4), (2002.48, 0.5), (2002.55, 0.3), (2002.63, 0.4), (2002.66, 0.1),
    (2002.78, 0.4), (2002.80, 0.1), (2002.87, 0.5), (2002.89, 0.1), (2003.02, 0.4), (2003.04, 0.1),
    (2003.13, 0.4), (2003.16, 0.1), (2003.23, 0.3), (2003.30, 0.4), (2003.33, 0.1), (2003.46, 0.5),
    (2003.48, 0.1), (2003.56, 0.6), (2003.58, 0.1), (2003.61, 0.4), (2003.63, 0.1), (2003.74, 0.4),
    (2003.81, 0.3), (2003.99, 0.3), (2004.02, 0.1), (2004.09, 0.2), (2004.15, 0.4), (2004.17, 0.1),
    (2004.24, 0.4), (2004.31, 0.3), (2004.33, 0.1), (2004.40, 0.4), (2004.42, 0.1), (2004.48, 0.5),
    (2004.57, 0.5), (2004.66, 0.4), (2004.73, 0.5), (2004.75, 0.1), (2004.82, 0.4), (2004.93, 0.5),
    (2004.96, 0.1), (2005.04, 0.3), (2005.07, 0.5), (2005.09, 0.1), (2005.15, 0.4), (2005.17, 0.1),
    (2005.23, 0.5), (2005.25, 0.1), (2005.32, 0.4), (2005.38, 0.5), (2005.44, 0.4), (2005.53, 0.5),
    (2005.60, 0.5), (2005.68, 0.6), (2005.70, 0.2), (2005.74, 0.7), (2005.75, 0.2), (2005.80, 0.5),
    (2005.86, 0.6), (2005.94, 0.5), (2005.96, 0.2), (2006.02, 0.6), (2006.04, 0.2), (2006.09, 0.2),
    (2006.16, 0.5), (2006.21, 0.6), (2006.29, 0.8), (2006.34, 0.3), (2006.45, 0.8), (2006.46, 0.2),
    (2006.50, 0.6), (2006.55, 0.8), (2006.56, 0.2), (2006.64, 0.6), (2006.66, 1.0), (2006.68, 0.2),
    (2006.73, 0.7), (2006.74, 0.2), (2006.79, 0.8), (2006.81, 0.2), (2006.86, 0.6), (2006.96, 0.1),
    (2007.00, 0.2),
]

series = [var1, var2, sorted(var3 + var3_floor)]

fig = plt.figure(figsize=(10.53, 6.35), dpi=100)
# axes boxes in figure fractions (left, bottom, width, height)
boxes = [(0.0427, 0.7154, 0.962, 0.2121),
         (0.0427, 0.3806, 0.962, 0.2126),
         (0.0427, 0.0488, 0.962, 0.2110)]

for i in range(3):
    ax = fig.add_axes(boxes[i])
    t, v = zip(*series[i])
    ax.plot(t, v, color=colors[i], linewidth=0.9)
    ax.set_xlim(1994.234, 2007.11)
    ax.set_ylim(0, y_limits[i])
    ax.set_xticks(x_ticks)
    ax.set_xticklabels(x_ticklabels)
    ax.set_yticks(y_ticks[i])
    ax.set_yticklabels(y_ticklabels[i])
    ax.tick_params(direction='in', top=True, right=True, length=7, width=0.8,
                   labelsize=14, pad=5)
    ax.tick_params(axis='y', colors='#555555', labelcolor='black')
    ax.tick_params(axis='x', colors='black')
    for s in ax.spines.values():
        s.set_linewidth(1.0)
    ax.spines['bottom'].set_linewidth(1.8)
    ax.set_title(titles[i], fontsize=14, pad=14)

fig.savefig('out.png', dpi=100)
